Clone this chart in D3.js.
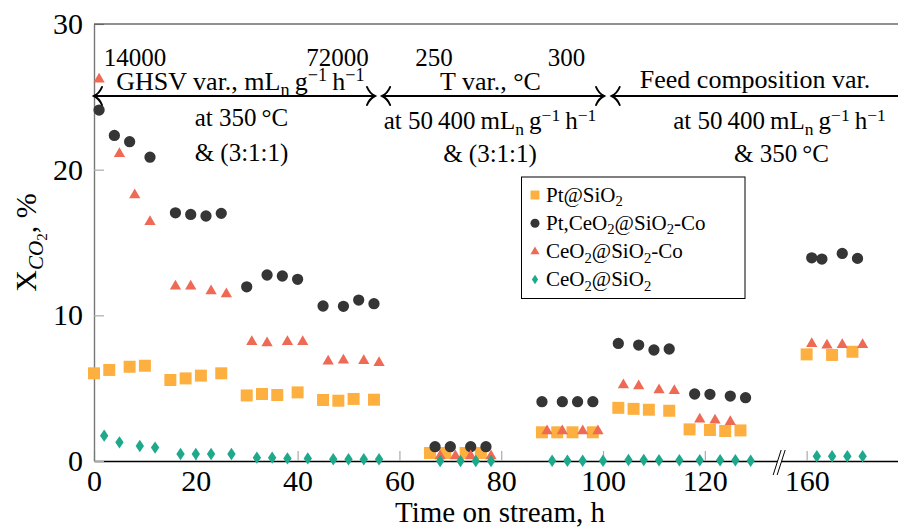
<!DOCTYPE html>
<html><head><meta charset="utf-8">
<script src="https://cdn.jsdelivr.net/npm/d3@7/dist/d3.min.js"></script>
<style>
body{margin:0;background:#fff}
svg{display:block}
text{font-family:"Liberation Serif","Times New Roman",serif;fill:#000}
</style>
</head><body>
<svg id="c" width="898" height="530"></svg>
<script>
// ---------------- data ----------------
const xTicks = [0, 20, 40, 60, 80, 100, 120, 160];
const yTicks = [0, 10, 20, 30];

const ptHours = [0,3,7,10,15,18,21,25,30,33,36,40,45,48,51,55,66,69,73,76,88,91,94,98,103,106,109,113,117,121,124,127,160,165,169];
const ptValues = [6.02,6.25,6.47,6.54,5.56,5.67,5.86,6.02,4.5,4.6,4.53,4.71,4.19,4.14,4.26,4.21,0.55,0.55,0.55,0.55,1.97,1.97,1.97,1.97,3.65,3.58,3.52,3.45,2.17,2.13,2.06,2.1,7.32,7.28,7.5];

const ptCeHours = [1,4,7,11,16,19,22,25,30,34,37,40,45,49,52,55,67,70,74,77,88,92,95,98,103,107,110,113,118,121,125,128,161,163,167,170];
const ptCeValues = [24.09,22.35,21.92,20.86,17.04,16.93,16.82,17.0,11.96,12.77,12.7,12.47,10.64,10.62,11.05,10.8,0.98,0.98,0.98,0.98,4.07,4.07,4.07,4.07,8.07,7.96,7.62,7.69,4.6,4.58,4.46,4.35,13.95,13.86,14.25,13.91];

const ceCoHours = [1,5,8,11,16,19,23,26,31,34,38,41,46,49,53,56,68,71,74,78,89,92,96,99,104,107,111,114,119,122,125,161,164,167,171];
const ceCoValues = [26.2,21.1,18.26,16.43,12.0,11.99,11.67,11.46,8.19,8.1,8.19,8.19,6.84,6.91,6.88,6.75,0.35,0.35,0.35,0.35,2.06,2.06,2.06,2.06,5.22,5.15,4.87,4.82,2.87,2.8,2.7,8.05,7.94,7.98,7.98];

const ceHours = [2,5,9,12,17,20,23,27,32,35,38,42,47,50,53,56,68,72,75,78,90,93,96,100,105,108,111,115,119,123,126,129,162,165,168,171];
const ceValues = [1.74,1.28,1.03,0.92,0.48,0.48,0.48,0.48,0.23,0.23,0.18,0.18,0.12,0.12,0.12,0.12,0,0,0,0,0.02,0.02,0.02,0.02,0.07,0.07,0.05,0.05,0.05,0.05,0.05,0.02,0.33,0.33,0.33,0.33];

const seriesNames = [
  [["Pt@SiO",""],["2","sub"]],
  [["Pt,CeO",""],["2","sub"],["@SiO",""],["2","sub"],["-Co",""]],
  [["CeO",""],["2","sub"],["@SiO",""],["2","sub"],["-Co",""]],
  [["CeO",""],["2","sub"],["@SiO",""],["2","sub"]]
];

// ---------------- setup ----------------
const svg = d3.select('#c');
const x = d3.scaleLinear().domain([0, 135, 155, 180]).range([94, 781.2, 781.2, 908.4]);
const y = d3.scaleLinear().domain([0, 30]).range([461, 24]);

const series = [
  {h: ptHours,   v: ptValues,   color: '#FDB040', sym: d3.symbolSquare,   size: 144, lsize: 80},
  {h: ptCeHours, v: ptCeValues, color: '#353535', sym: d3.symbolCircle,   size: 100, lsize: 64},
  {h: ceCoHours, v: ceCoValues, color: '#EE6A55', sym: d3.symbolTriangle, size: 55,  lsize: 36},
  {h: ceHours,   v: ceValues,   color: '#1FA98C', sym: 'diamond',         size: 1,   lsize: 0.75}
];

function symPath(s, size) {
  if (s.sym === 'diamond') {
    const w = 4.2 * size, hh = 6.2 * size;
    return `M0,${-hh}L${w},0L0,${hh}L${-w},0Z`;
  }
  return d3.symbol(s.sym, size)();
}

function rich(sel, parts, fs) {
  const t = sel;
  let cur = 0;
  parts.forEach(([str, kind]) => {
    let size = fs, shift = 0, style = null;
    if (kind === 'sub') { size = fs * 0.7; shift = fs * 0.22; }
    if (kind === 'subi') { size = fs * 0.7; shift = fs * 0.22; style = 'italic'; }
    if (kind === 'subsub') { size = fs * 0.5; shift = fs * 0.36; }
    if (kind === 'sup') { size = fs * 0.7; shift = -fs * 0.33; }
    const ts = t.append('tspan').attr('font-size', size).attr('dy', shift - cur).text(str);
    if (style) ts.attr('font-style', style);
    cur = shift;
  });
  return t;
}

// ---------------- axes ----------------
const gx = svg.append('g').attr('transform', 'translate(0,461)')
  .call(d3.axisBottom(x).tickValues(xTicks).tickSizeInner(-10).tickSizeOuter(0).tickPadding(9).tickFormat(d3.format('d')));
gx.select('.domain').attr('stroke', '#000').attr('stroke-width', 1.4);
gx.selectAll('.tick line').attr('stroke', '#aaa').attr('stroke-width', 1.2);
gx.selectAll('.tick text').attr('font-size', 30).attr('font-family', '"Liberation Serif",serif').attr('fill', '#000');

const gy = svg.append('g').attr('transform', 'translate(94,0)')
  .call(d3.axisLeft(y).tickValues(yTicks).tickSizeInner(-10).tickSizeOuter(0).tickPadding(11));
gy.select('.domain').attr('stroke', '#777').attr('stroke-width', 1.4);
gy.selectAll('.tick line').attr('stroke', '#aaa').attr('stroke-width', 1.2);
gy.selectAll('.tick text').attr('font-size', 30).attr('font-family', '"Liberation Serif",serif').attr('fill', '#000');

const gr = svg.append('g').attr('transform', `translate(${x(180)},0)`)
  .call(d3.axisRight(y).tickValues(yTicks).tickSizeInner(-10).tickSizeOuter(0).tickFormat(''));
gr.select('.domain').attr('stroke', '#777');
gr.selectAll('.tick line').attr('stroke', '#aaa').attr('stroke-width', 1.2);

// top frame
svg.append('line').attr('x1', x(0)).attr('x2', x(180)).attr('y1', y(30)).attr('y2', y(30))
  .attr('stroke', '#222').attr('stroke-width', 1.2);

// axis break
const bx = x(134.6), by = 461;
svg.append('path')
  .attr('d', `M${bx-6},${by+14}L${bx+2},${by-11}L${bx+6},${by-11}L${bx-2},${by+14}Z`)
  .attr('fill', '#fff');
svg.append('path')
  .attr('d', `M${bx-6},${by+14}L${bx+2},${by-11}M${bx-2},${by+14}L${bx+6},${by-11}`)
  .attr('stroke', '#000').attr('stroke-width', 1).attr('fill', 'none');

// axis labels
rich(svg.append('text').attr('x', 500).attr('y', 522).attr('text-anchor', 'middle').attr('font-size', 29),
  [["Time on stream, h", ""]], 29);

rich(svg.append('text').attr('transform', 'translate(36,242.5) rotate(-90)').attr('text-anchor', 'middle').attr('font-size', 30),
  [["X", ""], ["CO", "subi"], ["2", "subsub"], [", %", ""]], 30);

// ---------------- data marks ----------------
series.forEach(s => {
  svg.append('g').selectAll('path').data(s.h.map((h, i) => [h, s.v[i]])).join('path')
    .attr('d', symPath(s, s.size))
    .attr('transform', d => `translate(${x(d[0])},${y(d[1])})`)
    .attr('fill', s.color);
});

// ---------------- annotations ----------------
const arrowY = 96;
const segments = [[0, 55.2], [56.6, 100.2], [101.7, 190]];
const ann = svg.append('g');
function head(px, dir) {
  const d = dir; // +1 right-pointing, -1 left-pointing
  return `M${px - d*8},${arrowY-9}C${px - d*6},${arrowY-4} ${px - d*2},${arrowY-1} ${px},${arrowY}` +
         `C${px - d*2},${arrowY+1} ${px - d*6},${arrowY+4} ${px - d*8},${arrowY+9}`;
}
segments.forEach(([a, b]) => {
  const xa = x(a), xb = Math.min(x(b), 910);
  ann.append('line').attr('x1', xa).attr('x2', xb).attr('y1', arrowY).attr('y2', arrowY)
    .attr('stroke', '#000').attr('stroke-width', 2);
  ann.append('path').attr('d', head(xa, -1)).attr('fill', 'none').attr('stroke', '#000').attr('stroke-width', 2).attr('stroke-linecap', 'round');
  if (b < 180) ann.append('path').attr('d', head(xb, 1)).attr('fill', 'none').attr('stroke', '#000').attr('stroke-width', 2).attr('stroke-linecap', 'round');
});

const unitParts = [["mL", ""], ["n", "sub"], ["\u2009g", ""], ["\u22121", "sup"], ["\u2009h", ""], ["\u22121", "sup"]];
const FS = 26;
const labels = [
  {cx: 135, by: 66, fs: 25, parts: [["14000", ""]]},
  {cx: 337.5, by: 66, fs: 25, parts: [["72000", ""]]},
  {cx: 240.5, by: 90, fs: FS, parts: [["GHSV var., ", ""]].concat(unitParts)},
  {cx: 241.5, by: 126, fs: 25, parts: [["at 350\u2009\u00B0C", ""]]},
  {cx: 241.5, by: 161, fs: 25, parts: [["& (3:1:1)", ""]]},
  {cx: 434, by: 66, fs: 25, parts: [["250", ""]]},
  {cx: 566.5, by: 66, fs: 25, parts: [["300", ""]]},
  {cx: 490.5, by: 90, fs: FS, parts: [["T var., \u00B0C", ""]]},
  {cx: 490, by: 129, fs: 25, parts: [["at 50\u2009400\u2009", ""]].concat(unitParts)},
  {cx: 490, by: 162, fs: 25, parts: [["& (3:1:1)", ""]]},
  {cx: 755, by: 88, fs: FS, parts: [["Feed composition var.", ""]]},
  {cx: 779.5, by: 129, fs: 25, parts: [["at 50\u2009400\u2009", ""]].concat(unitParts)},
  {cx: 781.5, by: 162, fs: 25, parts: [["& 350\u2009\u00B0C", ""]]}
];
labels.forEach(l => {
  rich(ann.append('text').attr('x', l.cx).attr('y', l.by).attr('text-anchor', 'middle').attr('font-size', l.fs), l.parts, l.fs);
});

// ---------------- legend ----------------
const lg = svg.append('g');
lg.append('rect').attr('x', 521.5).attr('y', 177).attr('width', 223.5).attr('height', 121.5)
  .attr('fill', '#fff').attr('stroke', '#000').attr('stroke-width', 1);
const rowY = [195, 223.3, 251.7, 279.5];
series.forEach((s, i) => {
  lg.append('path').attr('d', symPath(s, s.lsize)).attr('transform', `translate(535,${rowY[i]})`).attr('fill', s.color);
  rich(lg.append('text').attr('x', 546).attr('y', rowY[i] + 6.5).attr('font-size', 21), seriesNames[i], 21);
});
</script>
</body></html>
